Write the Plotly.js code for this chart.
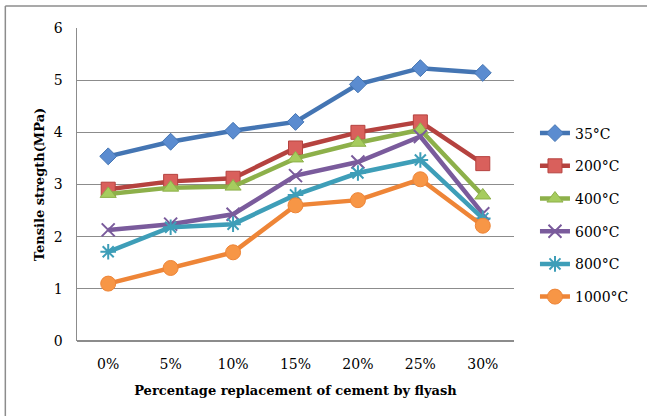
<!DOCTYPE html>
<html>
<head>
<meta charset="utf-8">
<script src="https://cdn.plot.ly/plotly-3.0.1.min.js"></script>
<style>
html,body{margin:0;padding:0;background:#fff;}
#chart{width:647px;height:416px;}
</style>
</head>
<body>
<div id="chart"></div>
<script>
var categories = ["0%", "5%", "10%", "15%", "20%", "25%", "30%"];
var seriesNames = ["35°C", "200°C", "400°C", "600°C", "800°C", "1000°C"];
var s35 = [3.54, 3.82, 4.03, 4.20, 4.92, 5.23, 5.14];
var s200 = [2.91, 3.06, 3.12, 3.70, 4.00, 4.20, 3.40];
var s400 = [2.82, 2.94, 2.96, 3.50, 3.80, 4.05, 2.79];
var s600 = [2.13, 2.24, 2.43, 3.17, 3.43, 3.92, 2.44];
var s800 = [1.71, 2.18, 2.24, 2.80, 3.22, 3.47, 2.35];
var s1000 = [1.10, 1.40, 1.70, 2.60, 2.70, 3.10, 2.21];
var yTicks = [0, 1, 2, 3, 4, 5, 6];

var values = [s35, s200, s400, s600, s800, s1000];
var lineColors = ["#4475B3", "#B5423F", "#8DB04A", "#7A5B9C", "#3E9EB8", "#EE8537"];
var fillColors = ["#5B8CD0", "#D9605C", "#A6CC5E", "#8A6BB0", "#4BACC6", "#F79646"];
var symbols = ["diamond", "square", "triangle-up", "x-thin-open", "asterisk-open", "circle"];
var sizes = [13, 14, 14, 13, 13, 15];

var traces = values.map(function (v, i) {
  var open = symbols[i].indexOf("open") >= 0;
  return {
    type: "scatter",
    mode: "lines+markers",
    name: seriesNames[i],
    legendgroup: "g" + i,
    x: categories,
    y: v,
    line: {color: lineColors[i], width: 4.5},
    marker: {
      symbol: symbols[i],
      size: sizes[i],
      color: open ? lineColors[i] : fillColors[i],
      line: {color: lineColors[i], width: open ? 2 : 1}
    }
  };
});

var font = "'DejaVu Serif', 'Liberation Serif', serif";
var layout = {
  width: 647,
  height: 416,
  margin: {l: 77, r: 133, t: 28, b: 75},
  paper_bgcolor: "#ffffff",
  plot_bgcolor: "#ffffff",
  font: {family: font, size: 14, color: "#000"},
  showlegend: true,
  legend: {
    x: 1.048, xanchor: "left",
    y: 0.714, yanchor: "top",
    traceorder: "grouped",
    tracegroupgap: 11.5,
    font: {family: font, size: 14, color: "#000"},
    bgcolor: "rgba(0,0,0,0)",
    itemwidth: 30
  },
  xaxis: {
    type: "category",
    range: [-0.5, 6.5],
    showgrid: false,
    showline: false,
    ticks: "",
    ticklabelstandoff: 13,
    tickfont: {family: font, size: 14},
    title: {text: "<b>Percentage replacement of cement by flyash</b>", font: {family: font, size: 13}, standoff: 14},
    zeroline: false,
    fixedrange: true
  },
  yaxis: {
    range: [0, 6],
    tickvals: yTicks,
    ticktext: yTicks.map(String),
    showgrid: true,
    gridcolor: "#8c8c8c",
    gridwidth: 1,
    showline: true,
    linecolor: "#8c8c8c",
    linewidth: 1.5,
    zeroline: true,
    zerolinecolor: "#8c8c8c",
    zerolinewidth: 1.5,
    ticks: "",
    ticklabelstandoff: 10,
    tickfont: {family: font, size: 14},
    title: {text: "<b>Tensile stregth(MPa)</b>", font: {family: font, size: 13}, standoff: 6},
    fixedrange: true
  },
  shapes: [
    {type: "line", xref: "paper", yref: "paper", x0: -0.164, x1: -0.164, y0: 1.07, y1: -0.3, line: {color: "#8c8c8c", width: 1.5}},
    {type: "line", xref: "paper", yref: "paper", x0: -0.164, x1: 1.4, y0: 1.07, y1: 1.07, line: {color: "#8c8c8c", width: 1.5}}
  ]
};

Plotly.newPlot("chart", traces, layout, {displayModeBar: false, staticPlot: true});
</script>
</body>
</html>
